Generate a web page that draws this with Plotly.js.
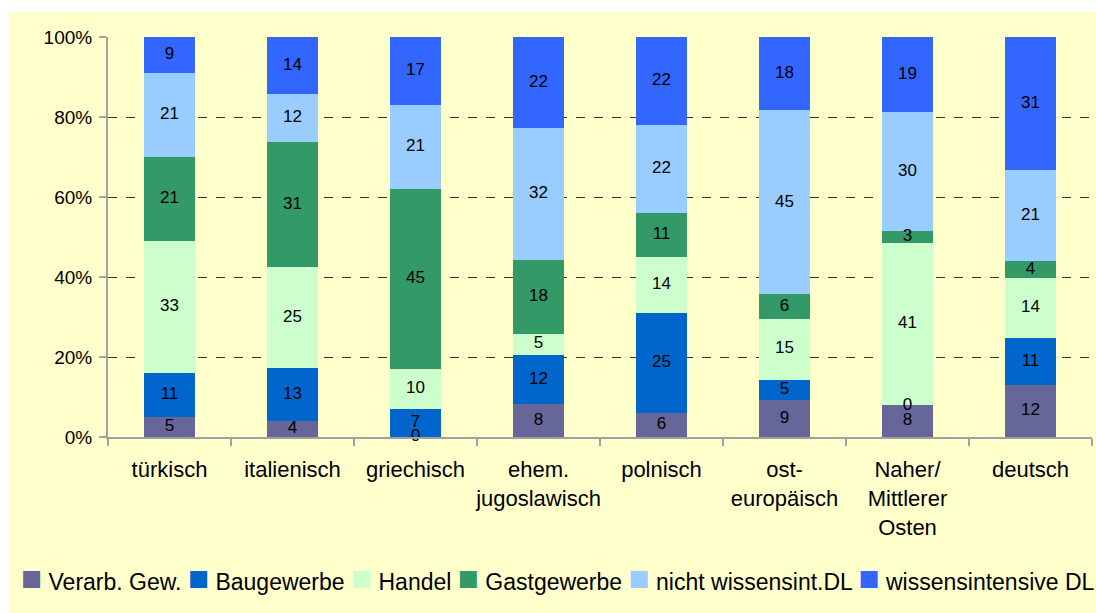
<!DOCTYPE html>
<html>
<head>
<meta charset="utf-8">
<script src="https://cdn.plot.ly/plotly-3.0.1.min.js"></script>
<style>
  html, body { margin: 0; padding: 0; background: #ffffff; }
  #chart { position: absolute; left: 9px; top: 12px; width: 1087px; height: 601px; }
</style>
</head>
<body>
<div id="chart"></div>
<script>
const categories = ["türkisch", "italienisch", "griechisch", "ehem.<br>jugoslawisch", "polnisch", "ost-<br>europäisch", "Naher/<br>Mittlerer<br>Osten", "deutsch"];

const seriesNames = ["Verarb. Gew.", "Baugewerbe", "Handel", "Gastgewerbe", "nicht wissensint.DL", "wissensintensive DL"];
const seriesColors = ["#666699", "#0066CC", "#CCFFCC", "#339966", "#99CCFF", "#3366FF"];

const verarbGew      = [5, 4, 0, 8, 6, 9, 8, 12];
const baugewerbe     = [11, 13, 7, 12, 25, 5, 0, 11];
const handel         = [33, 25, 10, 5, 14, 15, 41, 14];
const gastgewerbe    = [21, 31, 45, 18, 11, 6, 3, 4];
const nichtWissensDL = [21, 12, 21, 32, 22, 45, 30, 21];
const wissensDL      = [9, 14, 17, 22, 22, 18, 19, 31];

const seriesValues = [verarbGew, baugewerbe, handel, gastgewerbe, nichtWissensDL, wissensDL];

const FONT = "Liberation Sans, Arial, sans-serif";

// shares per category (each bar is a 100 % bar)
const totals = categories.map((_, j) => seriesValues.reduce((s, vals) => s + vals[j], 0));
const shares = seriesValues.map(vals => vals.map((v, j) => v / totals[j] * 100));

const barTraces = shares.map((vals, i) => ({
  type: "bar",
  name: seriesNames[i],
  x: categories,
  y: vals,
  customdata: seriesValues[i],
  marker: { color: seriesColors[i], line: { width: 0 } },
  hovertemplate: "%{customdata}<extra>" + seriesNames[i] + "</extra>",
  showlegend: false
}));

// value labels, drawn on top of all bars at the middle of each segment
const labelTraces = shares.map((vals, i) => ({
  type: "scatter",
  mode: "text",
  x: categories,
  y: vals.map((v, j) => shares.slice(0, i).reduce((s, arr) => s + arr[j], 0) + v / 2),
  text: seriesValues[i].map(v => String(v)),
  textposition: "middle center",
  textfont: { family: FONT, size: 17, color: "#000000" },
  cliponaxis: false,
  hoverinfo: "skip",
  showlegend: false
}));

// legend drawn as one text line built from the series names and colours
const legendText = seriesNames.map((n, i) =>
  '<span style="color:' + seriesColors[i] + ';font-size:35px">■</span> ' + n
).join(' ');

const layout = {
  barmode: "stack",
  bargap: 0.59,
  paper_bgcolor: "#FFFFCC",
  plot_bgcolor: "#FFFFCC",
  margin: { l: 99, r: 4, t: 25, b: 176 },
  font: { family: FONT, color: "#000000" },
  showlegend: false,
  annotations: [{
    xref: "paper", yref: "paper",
    x: 0.457, y: -0.35,
    xanchor: "center", yanchor: "middle",
    text: legendText,
    showarrow: false,
    font: { family: FONT, size: 23, color: "#000000" }
  }],
  xaxis: {
    type: "category",
    showline: true,
    linecolor: "#A0A0A0",
    linewidth: 2,
    ticks: "outside",
    tickson: "boundaries",
    ticklen: 7,
    tickwidth: 2,
    tickcolor: "#A0A0A0",
    tickangle: 0,
    ticklabelstandoff: 12,
    automargin: false,
    tickfont: { family: FONT, size: 22, color: "#000000" },
    showgrid: false,
    zeroline: false,
    fixedrange: true
  },
  yaxis: {
    range: [0, 100],
    tickvals: [0, 20, 40, 60, 80, 100],
    ticktext: ["0%", "20%", "40%", "60%", "80%", "100%"],
    showline: true,
    linecolor: "#A0A0A0",
    linewidth: 2,
    ticks: "outside",
    ticklen: 7,
    tickwidth: 2,
    tickcolor: "#A0A0A0",
    ticklabelstandoff: 3,
    automargin: false,
    tickfont: { family: FONT, size: 19, color: "#000000" },
    showgrid: true,
    gridcolor: "#333333",
    gridwidth: 1,
    griddash: "dash",
    zeroline: false,
    fixedrange: true
  }
};

Plotly.newPlot("chart", barTraces.concat(labelTraces), layout, { displayModeBar: false, staticPlot: true });
</script>
</body>
</html>
